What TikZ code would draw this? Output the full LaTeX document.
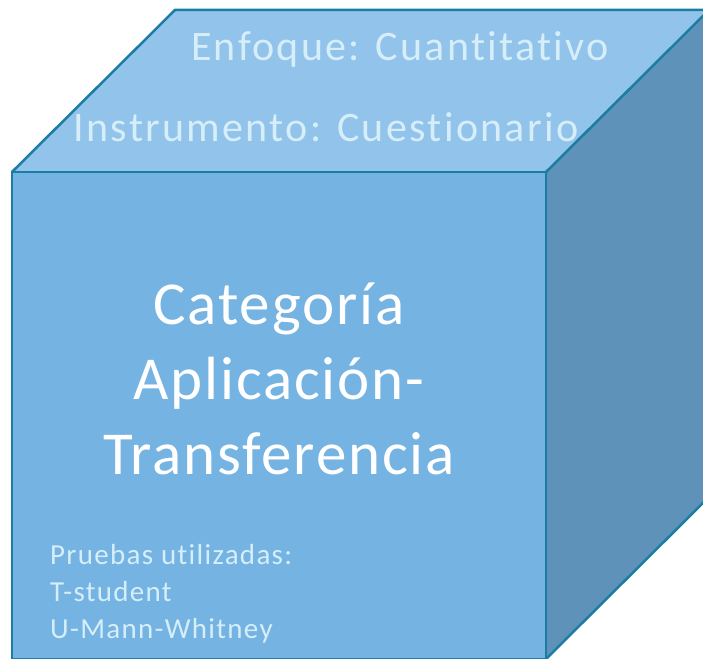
\documentclass[tikz,border=0pt]{standalone}
\usepackage{fontspec}
\setmainfont{Carlito}[Ligatures=NoCommon]
\newfontfamily\topfont{Carlito}[Ligatures=NoCommon, LetterSpace=5.5]
\newfontfamily\bigfont{Carlito}[Ligatures=NoCommon, LetterSpace=3]
\newfontfamily\smallfont{Carlito}[Ligatures=NoCommon, LetterSpace=4.5]
\definecolor{frontcol}{HTML}{74B3E2}
\definecolor{topcol}{HTML}{92C3EA}
\definecolor{sidecol}{HTML}{5F92B8}
\definecolor{edgecol}{HTML}{1B7DA3}
\definecolor{textcol}{HTML}{D6EEF9}

\tikzset{
	face/.style = {draw = edgecol, line width = 2.5pt, line join = miter},
	toplabel/.style = {text = textcol, font = \topfont\fontsize{42}{50}\selectfont, inner sep = 0pt},
	biglabel/.style = {text = white, font = \bigfont\fontsize{61}{75}\selectfont, align = center, inner sep = 0pt},
	smalllabel/.style = {text = textcol, font = \smallfont\fontsize{29}{37}\selectfont, align = left, inner sep = 0pt}
}

\begin{document}
\begin{tikzpicture}[x = 1pt, y = 1pt]
	\useasboundingbox (0,0) rectangle (703,658);
	\begin{scope}
	\clip (0,0) rectangle (703,658);
	% corners of the cube
	\coordinate (fbl) at (12,-1);
	\coordinate (fbr) at (546,-1);
	\coordinate (ftl) at (12,486);
	\coordinate (ftr) at (546,486);
	\coordinate (btl) at (175,648);
	\coordinate (btr) at (709,648);
	\coordinate (bbr) at (709,161);

	\fill [frontcol] (fbl) -- (fbr) -- (ftr) -- (ftl) -- cycle;
	\fill [topcol] (ftl) -- (ftr) -- (btr) -- (btl) -- cycle;
	\fill [sidecol] (fbr) -- (bbr) -- (btr) -- (ftr) -- cycle;
	\draw [face] (fbl) -- (fbr) -- (ftr) -- (ftl) -- cycle;
	\draw [face] (ftl) -- (btl) -- (btr) -- (ftr);
	\draw [face] (fbr) -- (bbr) -- (btr);
	\end{scope}

	\node [toplabel] (enfoque) at (400,609) {Enfoque: Cuantitativo};
	\node [toplabel] (instrumento) at (326,531) {Instrumento: Cuestionario};
	\node [biglabel] (categoria) at (279,279) {Categoría\\Aplicación-\\Transferencia};
	\node [smalllabel, anchor = north west] (pruebas) at (50,114) {Pruebas utilizadas:\\T-student\\U-Mann-Whitney};
\end{tikzpicture}
\end{document}
